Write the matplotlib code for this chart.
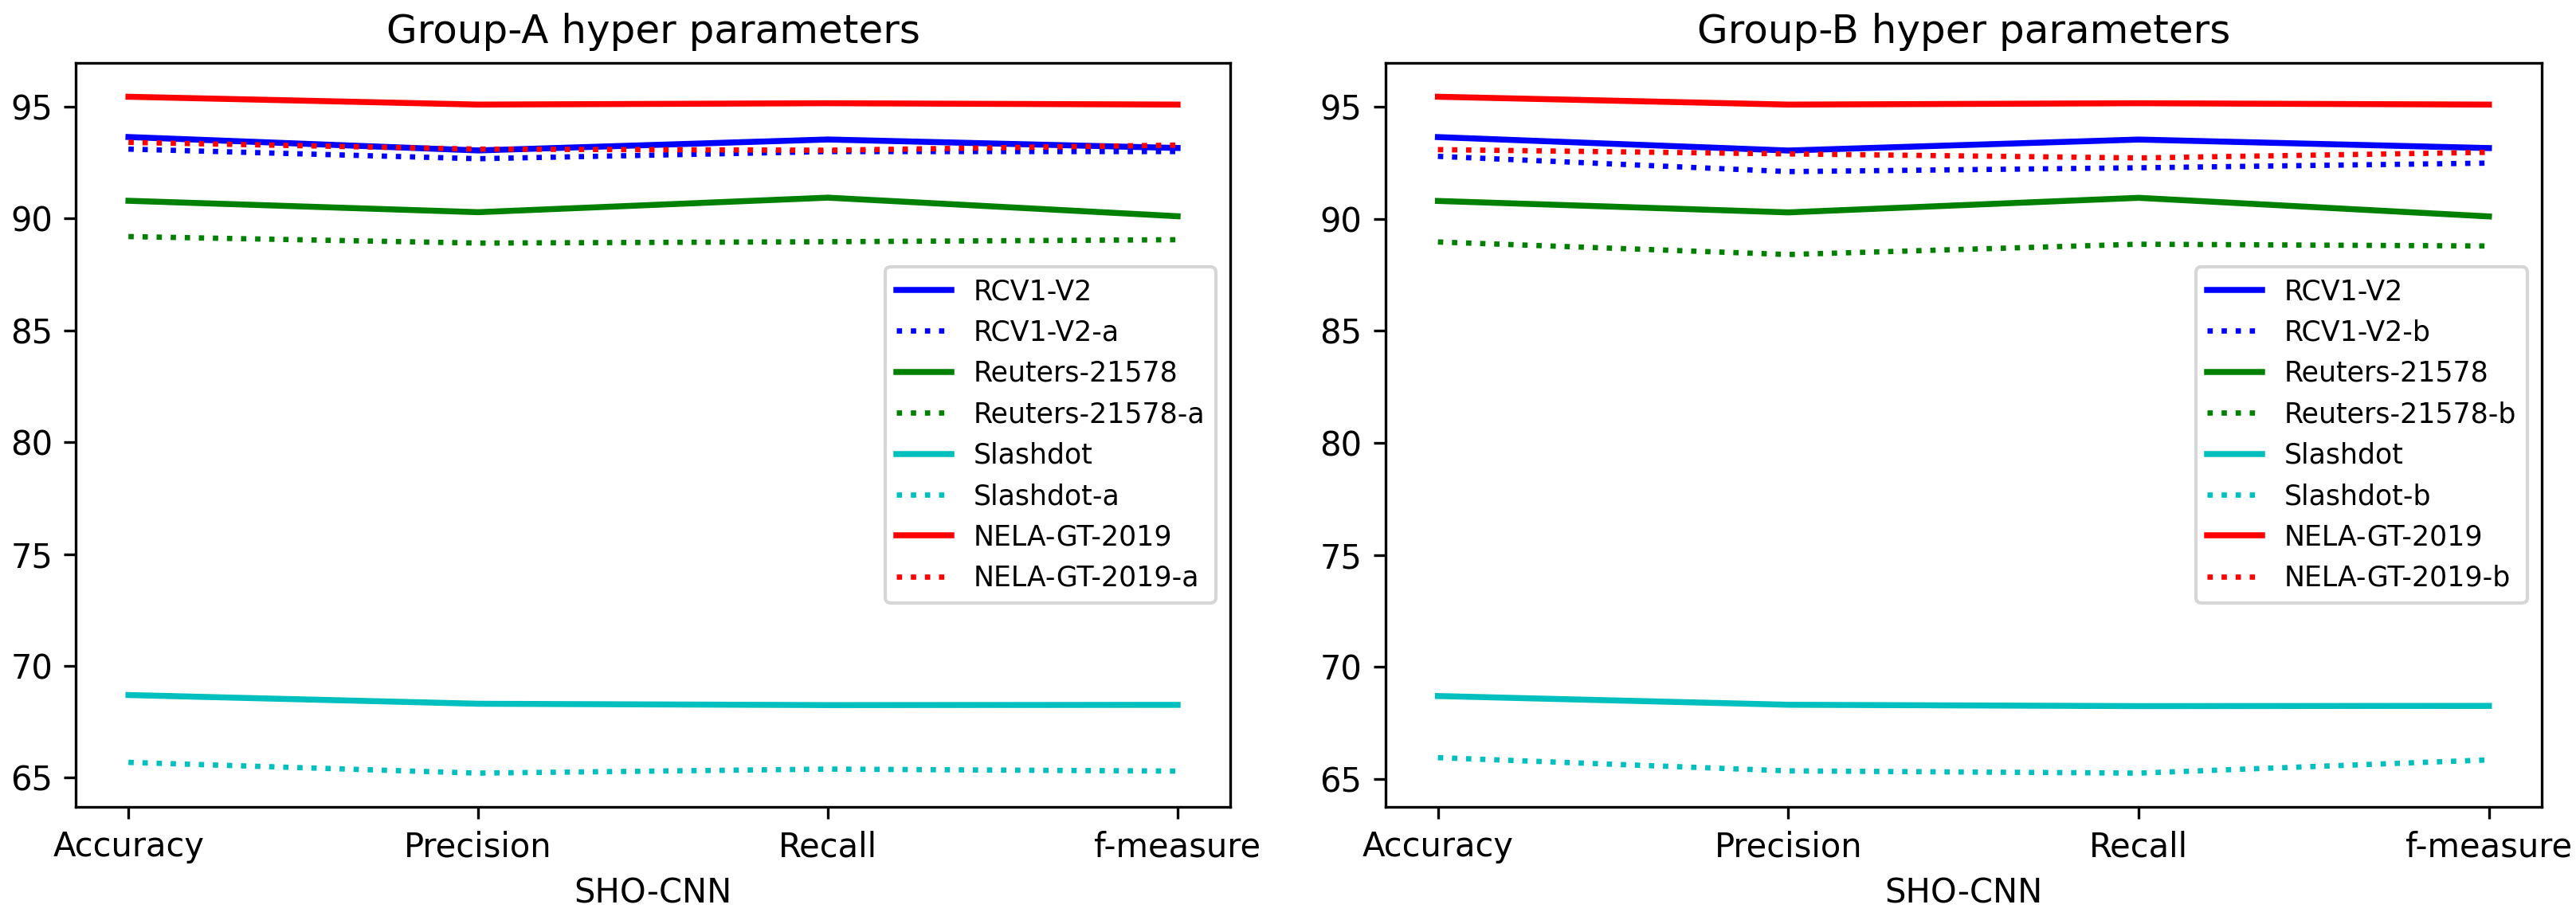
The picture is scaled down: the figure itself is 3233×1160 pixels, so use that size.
import matplotlib
matplotlib.use("Agg")
import matplotlib.pyplot as plt

metrics = ["Accuracy", "Precision", "Recall", "f-measure"]

datasets = ["RCV1-V2", "Reuters-21578", "Slashdot", "NELA-GT-2019"]
colors = ["b", "g", "c", "r"]

# Base (solid) values, same in both panels
rcv1 = [93.64, 93.04, 93.53, 93.15]
reuters = [90.79, 90.28, 90.93, 90.10]
slashdot = [68.70, 68.31, 68.25, 68.26]
nela = [95.44, 95.09, 95.15, 95.09]

# Group-A variants (dotted)
rcv1_a = [93.10, 92.67, 92.99, 92.99]
reuters_a = [89.19, 88.90, 88.96, 89.05]
slashdot_a = [65.69, 65.21, 65.39, 65.30]
nela_a = [93.40, 93.10, 93.05, 93.28]

# Group-B variants (dotted)
rcv1_b = [92.78, 92.10, 92.27, 92.48]
reuters_b = [88.96, 88.40, 88.86, 88.78]
slashdot_b = [65.95, 65.36, 65.26, 65.85]
nela_b = [93.08, 92.89, 92.71, 92.96]

base = [rcv1, reuters, slashdot, nela]
group_a = [rcv1_a, reuters_a, slashdot_a, nela_a]
group_b = [rcv1_b, reuters_b, slashdot_b, nela_b]

fig = plt.figure(figsize=(3233 / 300, 1160 / 300), dpi=300)
ax1 = fig.add_axes([0.0295, 0.1267, 0.4480, 0.8052])
ax2 = fig.add_axes([0.5378, 0.1267, 0.4488, 0.8052])

for ax, variants, suffix, title in [
    (ax1, group_a, "-a", "Group-A hyper parameters"),
    (ax2, group_b, "-b", "Group-B hyper parameters"),
]:
    for name, col, b, v in zip(datasets, colors, base, variants):
        ax.plot(metrics, b, color=col, linestyle="-", linewidth=1.8, label=name)
        ax.plot(metrics, v, color=col, linestyle=":", linewidth=1.6, label=name + suffix)
    ax.set_title(title)
    ax.set_xlabel("SHO-CNN")
    ax.legend(loc="center right", fontsize="small")

fig.savefig("out.png", dpi=300)
